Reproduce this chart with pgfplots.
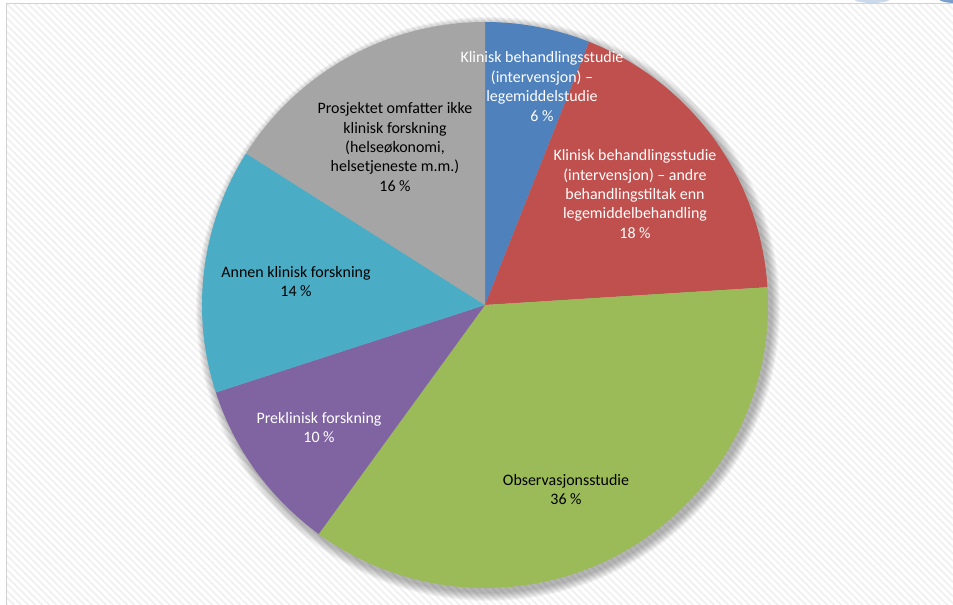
\documentclass[border=0pt]{standalone}
\usepackage{pgfplots}
\pgfplotsset{compat=1.18}
\usepackage{pgfplotstable}
\usepackage{fontspec}
\setmainfont{Carlito}
\usetikzlibrary{patterns.meta}

\definecolor{c0}{HTML}{4F81BD}
\definecolor{c1}{HTML}{C0504D}
\definecolor{c2}{HTML}{9BBB59}
\definecolor{c3}{HTML}{8064A2}
\definecolor{c4}{HTML}{4BACC6}
\definecolor{c5}{HTML}{A5A5A5}

% share of projects, clockwise from 12 o'clock
\pgfplotstableread{
share
6
18
36
10
14
16
}\piedata

\begin{document}
\begin{tikzpicture}
\begin{axis}[
  width=953bp, height=605bp, scale only axis,
  xmin=0, xmax=953, ymin=0, ymax=605,
  hide axis,
]
\pgfplotsextra{
  % chart area
  \fill[white] (axis cs:0,0) rectangle (axis cs:953,605);
  \fill[pattern={Lines[angle=-45,distance=5bp,line width=1.7bp]}, pattern color=black!6]
    (axis cs:6,0) rectangle (axis cs:953,601);
  \draw[black!18, line width=1bp] (axis cs:6,0) -- (axis cs:6,601) -- (axis cs:953,601);
  \fill[c0!30] (axis cs:872,606) ellipse[x radius=18bp, y radius=4bp];
  \fill[c0!75] (axis cs:955,606) ellipse[x radius=16bp, y radius=4bp];
  % soft shadow
  \foreach \k in {1,...,9}{
    \pgfmathsetmacro\rr{283+\k}
    \fill[black, opacity=0.035] (axis cs:488,296) circle[radius=\rr bp];
  }
  % slices
  \gdef\cum{0}
  \pgfplotstableforeachcolumnelement{share}\of\piedata\as\val{
    \pgfmathsetmacro\angA{90-3.6*\cum}
    \pgfmathsetmacro\angB{90-3.6*(\cum+\val)}
    \fill[c\pgfplotstablerow] (axis cs:485,300) -- ++(\angA:283bp)
      arc[start angle=\angA, end angle=\angB, radius=283bp] -- cycle;
    \pgfmathsetmacro\newcum{\cum+\val}
    \global\let\cum\newcum
  }
}
\begin{scope}[every node/.style={align=center, inner sep=0pt, font=\fontsize{16}{19.5}\selectfont}]
\node[text=white] at (axis cs:542,518.5) {Klinisk behandlingsstudie\\(intervensjon) –\\legemiddelstudie\\6 \%};
\node[text=white] at (axis cs:635,411) {Klinisk behandlingsstudie\\(intervensjon) – andre\\behandlingstiltak enn\\legemiddelbehandling\\18 \%};
\node[text=black] at (axis cs:566,115.5) {Observasjonsstudie\\36 \%};
\node[text=white] at (axis cs:319,177.5) {Preklinisk forskning\\10 \%};
\node[text=black] at (axis cs:296,323.5) {Annen klinisk forskning\\14 \%};
\node[text=black] at (axis cs:395,458) {Prosjektet omfatter ikke\\klinisk forskning\\(helseøkonomi,\\helsetjeneste m.m.)\\16 \%};
\end{scope}
\end{axis}
\end{tikzpicture}
\end{document}
